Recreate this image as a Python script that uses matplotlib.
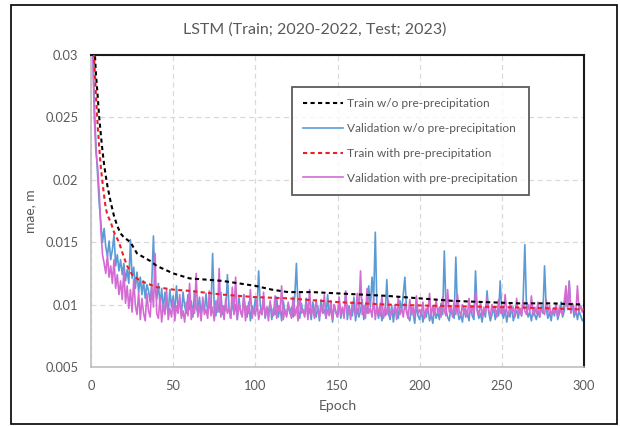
import matplotlib
matplotlib.use("Agg")
import matplotlib.pyplot as plt
from matplotlib.patches import Rectangle

plt.rcParams['font.family'] = ['Lato', 'DejaVu Sans']

title = "LSTM (Train; 2020-2022, Test; 2023)"
x_label = "Epoch"
y_label = "mae, m"
labels = ["Train w/o pre-precipitation", "Validation w/o pre-precipitation",
          "Train with pre-precipitation", "Validation with pre-precipitation"]

x_ticks = [0, 50, 100, 150, 200, 250, 300]
y_ticks = [0.005, 0.01, 0.015, 0.02, 0.025, 0.03]
y_tick_labels = ["0.005", "0.01", "0.015", "0.02", "0.025", "0.03"]

# Train curves (smooth), sampled epochs
train_wo_epochs = [1, 2, 3, 4, 5, 6, 7, 8, 9, 10, 12, 14, 16, 18, 20, 24, 28, 32, 36, 40, 45, 50,
                   55, 60, 70, 80, 90, 100, 110, 120, 135, 150, 165, 180, 200, 220, 240, 260, 280, 300]
train_wo = [0.0335, 0.0310, 0.0285, 0.0268, 0.0250, 0.0236, 0.0223, 0.0212, 0.0203, 0.0195,
            0.0182, 0.0171, 0.0163, 0.0157, 0.0154, 0.0150, 0.0141, 0.0138, 0.0135, 0.0131,
            0.0128, 0.0125, 0.0123, 0.0121, 0.0120, 0.0119, 0.0117, 0.0115, 0.0112, 0.0110,
            0.0110, 0.0109, 0.0108, 0.0107, 0.0105, 0.0103, 0.0102, 0.0101, 0.0101, 0.0100]

train_with_epochs = [1, 2, 3, 4, 5, 6, 7, 8, 9, 10, 12, 14, 17, 20, 22, 25, 30, 34, 40, 50,
                     60, 80, 100, 120, 150, 180, 210, 250, 280, 300]
train_with = [0.0320, 0.0295, 0.0268, 0.0245, 0.0226, 0.0210, 0.0198, 0.0187, 0.0177, 0.0172,
              0.0166, 0.0158, 0.0150, 0.0138, 0.0131, 0.0124, 0.0119, 0.0117, 0.0114, 0.0112,
              0.0111, 0.0108, 0.0106, 0.0105, 0.0102, 0.0100, 0.0099, 0.0098, 0.0097, 0.0096]

val_epochs = list(range(1, 301))
val_wo = [
    0.0310, 0.0262, 0.0228, 0.0205, 0.0181, 0.0166, 0.0150, 0.0161, 0.0146, 0.0139,
    0.0151, 0.0136, 0.0144, 0.0156, 0.0131, 0.0140, 0.0127, 0.0136, 0.0124, 0.0133,
    0.0119, 0.0128, 0.0117, 0.0152, 0.0121, 0.0130, 0.0113, 0.0126, 0.0110, 0.0122,
    0.0108, 0.0119, 0.0105, 0.0116, 0.0111, 0.0102, 0.0118, 0.0155, 0.0112, 0.0104,
    0.0117, 0.0099, 0.0113, 0.0096, 0.0110, 0.0101, 0.0093, 0.0112, 0.0098, 0.0107,
    0.0094, 0.0115, 0.0097, 0.0104, 0.0091, 0.0110, 0.0099, 0.0093, 0.0108, 0.0096,
    0.0103, 0.0090, 0.0111, 0.0097, 0.0094, 0.0106, 0.0092, 0.0101, 0.0095, 0.0109,
    0.0093, 0.0100, 0.0096, 0.0141, 0.0098, 0.0091, 0.0104, 0.0094, 0.0110, 0.0092,
    0.0099, 0.0095, 0.0124, 0.0097, 0.0089, 0.0103, 0.0093, 0.0100, 0.0088, 0.0106,
    0.0094, 0.0091, 0.0108, 0.0096, 0.0090, 0.0102, 0.0087, 0.0099, 0.0093, 0.0105,
    0.0095, 0.0127, 0.0100, 0.0092, 0.0104, 0.0089, 0.0098, 0.0094, 0.0101, 0.0088,
    0.0097, 0.0092, 0.0106, 0.0090, 0.0099, 0.0087, 0.0103, 0.0094, 0.0091, 0.0100,
    0.0093, 0.0098, 0.0090, 0.0107, 0.0133, 0.0096, 0.0089, 0.0101, 0.0094, 0.0092,
    0.0105, 0.0091, 0.0097, 0.0088, 0.0102, 0.0095, 0.0090, 0.0099, 0.0087, 0.0104,
    0.0093, 0.0096, 0.0089, 0.0108, 0.0092, 0.0098, 0.0086, 0.0100, 0.0094, 0.0090,
    0.0103, 0.0089, 0.0096, 0.0092, 0.0110, 0.0088, 0.0099, 0.0093, 0.0091, 0.0106,
    0.0087, 0.0097, 0.0090, 0.0095, 0.0104, 0.0088, 0.0100, 0.0093, 0.0115, 0.0098,
    0.0122, 0.0104, 0.0158, 0.0096, 0.0089, 0.0101, 0.0087, 0.0094, 0.0091, 0.0120,
    0.0093, 0.0088, 0.0099, 0.0086, 0.0097, 0.0092, 0.0089, 0.0103, 0.0095, 0.0108,
    0.0122, 0.0096, 0.0090, 0.0087, 0.0098, 0.0093, 0.0085, 0.0100, 0.0091, 0.0088,
    0.0096, 0.0086, 0.0094, 0.0090, 0.0099, 0.0087, 0.0092, 0.0085, 0.0097, 0.0089,
    0.0094, 0.0088, 0.0101, 0.0092, 0.0143, 0.0096, 0.0090, 0.0087, 0.0098, 0.0093,
    0.0089, 0.0138, 0.0095, 0.0088, 0.0092, 0.0086, 0.0097, 0.0090, 0.0094, 0.0087,
    0.0099, 0.0091, 0.0088, 0.0127, 0.0095, 0.0089, 0.0093, 0.0086, 0.0096, 0.0090,
    0.0111, 0.0094, 0.0087, 0.0092, 0.0098, 0.0088, 0.0095, 0.0091, 0.0119, 0.0093,
    0.0089, 0.0096, 0.0086, 0.0094, 0.0090, 0.0099, 0.0087, 0.0093, 0.0095, 0.0089,
    0.0097, 0.0091, 0.0105, 0.0148, 0.0098, 0.0090, 0.0094, 0.0087, 0.0096, 0.0092,
    0.0088, 0.0095, 0.0090, 0.0099, 0.0093, 0.0131, 0.0097, 0.0089, 0.0094, 0.0087,
    0.0096, 0.0091, 0.0099, 0.0088, 0.0093, 0.0102, 0.0090, 0.0095, 0.0108, 0.0098,
    0.0119, 0.0094, 0.0100, 0.0090, 0.0097, 0.0088, 0.0095, 0.0091, 0.0087, 0.0089,
]
val_with = [
    0.0305, 0.0250, 0.0222, 0.0211, 0.0190, 0.0160, 0.0140, 0.0133, 0.0125, 0.0140,
    0.0122, 0.0131, 0.0117, 0.0136, 0.0113, 0.0124, 0.0108, 0.0119, 0.0104, 0.0128,
    0.0101, 0.0115, 0.0097, 0.0112, 0.0094, 0.0120, 0.0099, 0.0092, 0.0110, 0.0088,
    0.0105, 0.0093, 0.0087, 0.0109, 0.0095, 0.0090, 0.0115, 0.0098, 0.0141, 0.0093,
    0.0089, 0.0106, 0.0086, 0.0100, 0.0092, 0.0112, 0.0088, 0.0097, 0.0090, 0.0104,
    0.0087, 0.0099, 0.0093, 0.0108, 0.0089, 0.0095, 0.0086, 0.0102, 0.0091, 0.0117,
    0.0088, 0.0097, 0.0093, 0.0125, 0.0090, 0.0100, 0.0087, 0.0106, 0.0092, 0.0096,
    0.0089, 0.0111, 0.0091, 0.0098, 0.0087, 0.0103, 0.0094, 0.0129, 0.0090, 0.0099,
    0.0088, 0.0105, 0.0093, 0.0097, 0.0089, 0.0114, 0.0092, 0.0122, 0.0088, 0.0101,
    0.0095, 0.0090, 0.0108, 0.0087, 0.0099, 0.0093, 0.0112, 0.0089, 0.0097, 0.0091,
    0.0104, 0.0088, 0.0096, 0.0092, 0.0110, 0.0090, 0.0098, 0.0087, 0.0103, 0.0094,
    0.0091, 0.0107, 0.0089, 0.0099, 0.0093, 0.0115, 0.0088, 0.0096, 0.0090, 0.0102,
    0.0094, 0.0089, 0.0106, 0.0091, 0.0098, 0.0087, 0.0109, 0.0093, 0.0096, 0.0090,
    0.0101, 0.0088, 0.0112, 0.0092, 0.0097, 0.0089, 0.0104, 0.0095, 0.0090, 0.0099,
    0.0093, 0.0108, 0.0089, 0.0096, 0.0091, 0.0103, 0.0088, 0.0100, 0.0094, 0.0090,
    0.0106, 0.0092, 0.0098, 0.0089, 0.0111, 0.0093, 0.0097, 0.0088, 0.0102, 0.0095,
    0.0091, 0.0109, 0.0094, 0.0127, 0.0092, 0.0099, 0.0089, 0.0113, 0.0093, 0.0097,
    0.0090, 0.0105, 0.0088, 0.0100, 0.0094, 0.0091, 0.0107, 0.0089, 0.0098, 0.0092,
    0.0103, 0.0090, 0.0096, 0.0093, 0.0100, 0.0088, 0.0106, 0.0092, 0.0097, 0.0090,
    0.0101, 0.0094, 0.0089, 0.0104, 0.0092, 0.0098, 0.0090, 0.0107, 0.0093, 0.0096,
    0.0091, 0.0102, 0.0089, 0.0097, 0.0094, 0.0109, 0.0090, 0.0099, 0.0092, 0.0104,
    0.0093, 0.0098, 0.0090, 0.0106, 0.0095, 0.0091, 0.0112, 0.0094, 0.0097, 0.0090,
    0.0103, 0.0092, 0.0108, 0.0095, 0.0091, 0.0100, 0.0093, 0.0097, 0.0090, 0.0105,
    0.0094, 0.0099, 0.0091, 0.0110, 0.0096, 0.0092, 0.0102, 0.0090, 0.0098, 0.0093,
    0.0106, 0.0095, 0.0091, 0.0100, 0.0094, 0.0097, 0.0090, 0.0104, 0.0093, 0.0099,
    0.0092, 0.0108, 0.0095, 0.0091, 0.0101, 0.0094, 0.0098, 0.0090, 0.0105, 0.0093,
    0.0097, 0.0091, 0.0103, 0.0095, 0.0092, 0.0100, 0.0094, 0.0107, 0.0091, 0.0098,
    0.0093, 0.0102, 0.0090, 0.0097, 0.0095, 0.0092, 0.0104, 0.0094, 0.0099, 0.0091,
    0.0096, 0.0093, 0.0101, 0.0090, 0.0098, 0.0094, 0.0092, 0.0103, 0.0115, 0.0096,
    0.0118, 0.0093, 0.0101, 0.0097, 0.0092, 0.0115, 0.0095, 0.0099, 0.0094, 0.0097,
]

TEXT = "#595959"
W, H = 620, 426
fig = plt.figure(figsize=(W / 100, H / 100), dpi=100)
ax = fig.add_axes([91 / W, 1 - 367 / H, (584 - 91) / W, (367 - 55) / H])

ax.plot(train_wo_epochs, train_wo, color="black", lw=1.5, ls=(0, (2, 1.6)), label=labels[0], zorder=3)
ax.plot(val_epochs, val_wo, color="#5b9bd5", lw=1.2, label=labels[1], zorder=2)
ax.plot(train_with_epochs, train_with, color="#e8202a", lw=1.5, ls=(0, (2, 1.6)), label=labels[2], zorder=3)
ax.plot(val_epochs, val_with, color="#d36bd3", lw=1.2, label=labels[3], zorder=2)

ax.set_xlim(0, 300)
ax.set_ylim(0.005, 0.03)
ax.set_xticks(x_ticks)
ax.set_yticks(y_ticks)
ax.set_yticklabels(y_tick_labels)
ax.grid(True, color="#d9d9d9", ls=(0, (4, 3)), lw=0.9)
ax.set_axisbelow(True)
ax.tick_params(length=0, labelsize=9.3, colors=TEXT, pad=9)
for s in ["top", "right"]:
    ax.spines[s].set_color("#1a1a1a")
    ax.spines[s].set_linewidth(1.5)
for s in ["left", "bottom"]:
    ax.spines[s].set_color("#bfbfbf")
    ax.spines[s].set_linewidth(1.2)

ax.set_xlabel(x_label, fontsize=10, color=TEXT, labelpad=6)
ax.set_ylabel(y_label, fontsize=10, color=TEXT, labelpad=7)

leg = ax.legend(loc="upper left", bbox_to_anchor=((292 - 91) / 493, (367 - 87) / 312),
                fontsize=8.6, frameon=True, fancybox=False, borderpad=0.95,
                labelspacing=1.15, handlelength=3.3, handletextpad=0.35, borderaxespad=0)
leg.get_frame().set_edgecolor("#333333")
leg.get_frame().set_linewidth(1.3)
for t in leg.get_texts():
    t.set_color(TEXT)

fig.text(0.507, 1 - 30 / H, title, ha="center", va="center", fontsize=11.5, color=TEXT)
fig.patches.append(Rectangle((11 / W, 2 / H), (617 - 11) / W, (421 - 2) / H, transform=fig.transFigure,
                             fill=False, edgecolor="black", lw=1.2))

fig.savefig("out.png", dpi=100)
